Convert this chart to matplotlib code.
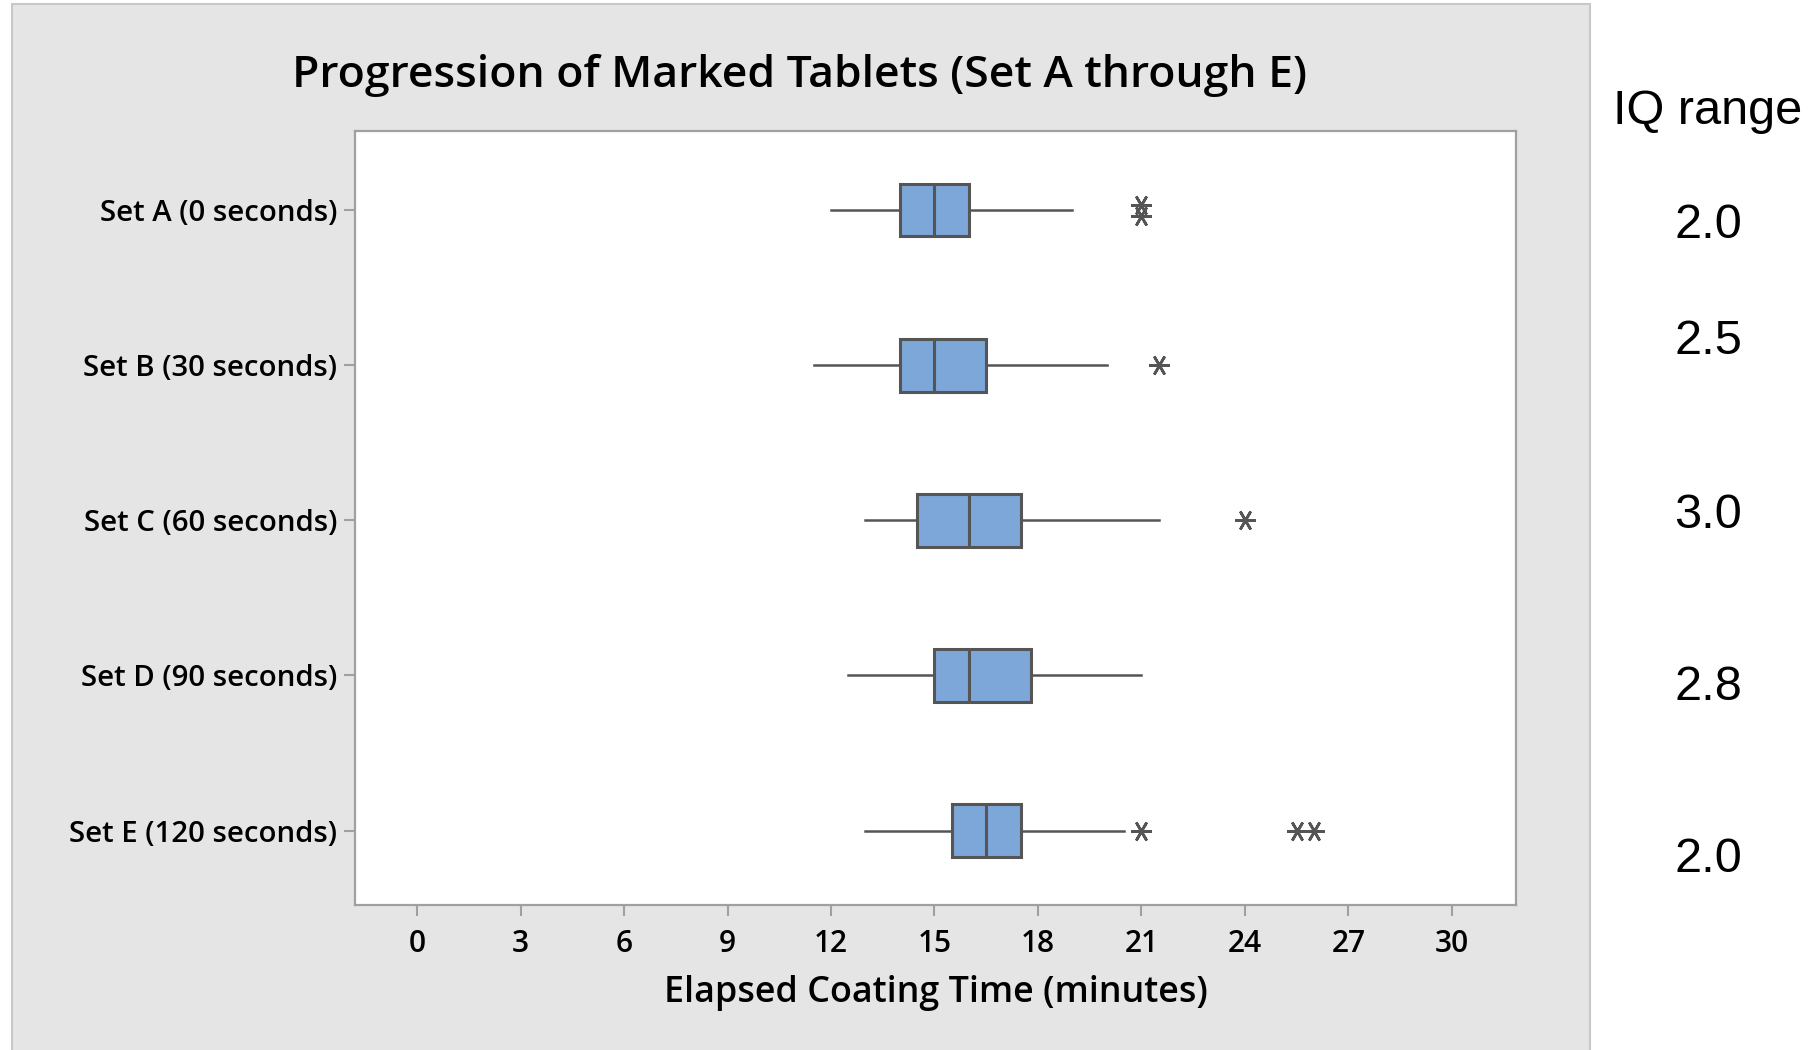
import numpy as np
import matplotlib.pyplot as plt
from matplotlib.patches import Rectangle

# data (minutes)
sets = ["Set A (0 seconds)", "Set B (30 seconds)", "Set C (60 seconds)",
        "Set D (90 seconds)", "Set E (120 seconds)"]
whisker_low = [12.0, 11.5, 13.0, 12.5, 13.0]
q1 = [14.0, 14.0, 14.5, 15.0, 15.5]
median = [15.0, 15.0, 16.0, 16.0, 16.5]
q3 = [16.0, 16.5, 17.5, 17.8, 17.5]
whisker_high = [19.0, 20.0, 21.5, 21.0, 20.5]
outliers = [[21.0, 21.0], [21.5], [24.0], [], [21.0, 25.5, 26.0]]
iq_range = ["2.0", "2.5", "3.0", "2.8", "2.0"]
x_ticks = list(range(0, 31, 3))

BOX_BLUE = "#7DA7D8"
EDGE = "#555555"
PANEL = "#E5E5E5"

W, H = 1813, 1050


def main():
    fig = plt.figure(figsize=(W / 100, H / 100), dpi=100)
    fig.patch.set_facecolor("white")

    # gray graph panel behind the plot
    fig.patches.append(Rectangle((12 / W, -0.01), (1590 - 12) / W, (H - 4) / H + 0.01,
                                 transform=fig.transFigure, facecolor=PANEL,
                                 edgecolor="#C8C8C8", linewidth=1.5, zorder=-5))

    ax = fig.add_axes([355 / W, (H - 905) / H, (1516 - 355) / W, (905 - 131) / H])
    ax.set_facecolor("white")
    ax.set_zorder(2)

    stats = []
    for i in range(len(sets)):
        stats.append(dict(whislo=whisker_low[i], q1=q1[i], med=median[i],
                          q3=q3[i], whishi=whisker_high[i], fliers=[]))
    pos = np.arange(len(sets))
    ax.bxp(stats, positions=pos, vert=False, widths=0.34, patch_artist=True,
           showfliers=False, showcaps=False,
           boxprops=dict(facecolor=BOX_BLUE, edgecolor=EDGE, linewidth=2.2),
           medianprops=dict(color=EDGE, linewidth=2.2),
           whiskerprops=dict(color=EDGE, linewidth=1.8))

    # outliers, duplicates nudged apart vertically
    for i, vals in enumerate(outliers):
        seen = {}
        for v in vals:
            seen[v] = seen.get(v, 0) + 1
        for v, n in seen.items():
            offs = (np.arange(n) - (n - 1) / 2) * 0.07
            ax.plot([v] * n, pos[i] + offs, linestyle="none", marker=(6, 2, 90),
                    markersize=15, markeredgecolor=EDGE, markeredgewidth=1.9)

    ax.set_xlim(-1.8, 31.86)
    ax.set_ylim(4.48, -0.51)
    ax.set_xticks(x_ticks)
    ax.set_yticks(pos)
    ax.set_yticklabels(sets)

    lab_font = dict(family=["Open Sans", "DejaVu Sans"], weight="semibold")
    for t in ax.get_xticklabels():
        t.set_fontfamily(lab_font["family"])
        t.set_fontweight("semibold")
        t.set_fontsize(21.5)
    for t in ax.get_yticklabels():
        t.set_fontfamily(lab_font["family"])
        t.set_fontweight("semibold")
        t.set_fontsize(21.2)
    ax.tick_params(axis="both", direction="out", length=8, width=1.5,
                   color="#A0A0A0")
    ax.tick_params(axis="x", pad=9)
    ax.tick_params(axis="y", pad=5)
    for s in ax.spines.values():
        s.set_color("#A0A0A0")
        s.set_linewidth(1.6)

    ax.set_xlabel("Elapsed Coating Time (minutes)", fontsize=25.8, labelpad=12, **lab_font)
    fig.text(800 / W, 1 - 75 / H, "Progression of Marked Tablets (Set A through E)",
             ha="center", va="center", fontsize=32, **lab_font)

    # IQ range column on the right
    iq_font = dict(family=["Liberation Sans", "DejaVu Sans"])
    fig.text(1708 / W, 1 - 111 / H, "IQ range", ha="center", va="center",
             fontsize=35, **iq_font)
    iq_y = [226, 342, 515, 688, 859]
    for val, y in zip(iq_range, iq_y):
        fig.text(1708 / W, 1 - y / H, val, ha="center", va="center",
                 fontsize=35, **iq_font)

    fig.savefig("out.png", dpi=100)


if __name__ == '__main__':
    main()
